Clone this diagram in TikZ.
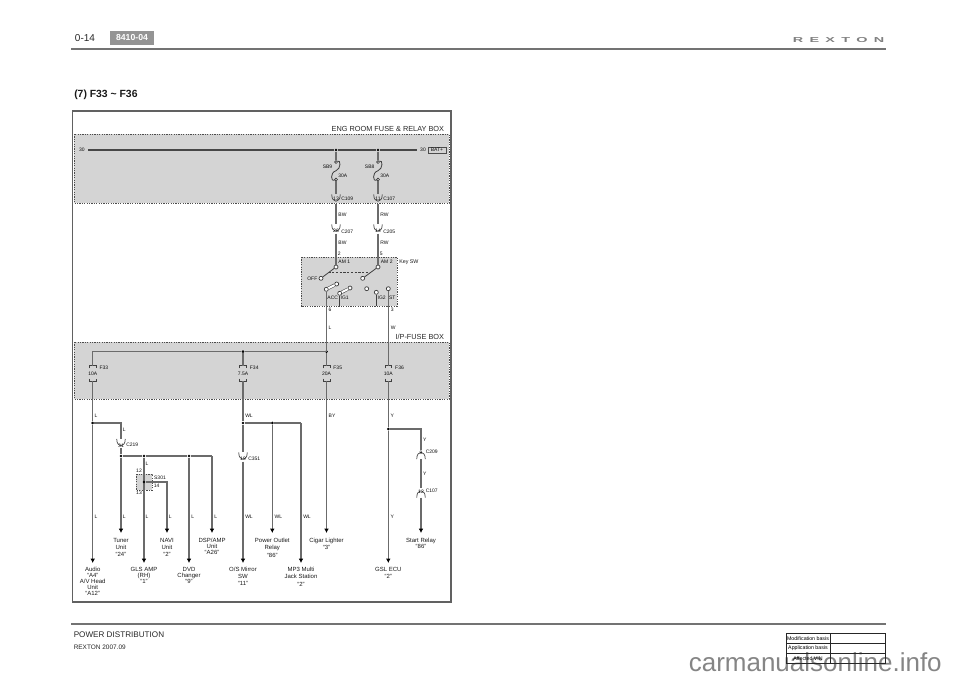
\documentclass[tikz,border=0pt]{standalone}
\usepackage{fontspec}
\setmainfont{Liberation Sans}
\newfontfamily\logofont[LetterSpace=44]{Liberation Sans}
\usetikzlibrary{arrows.meta,calc}
\definecolor{boxgray}{gray}{0.83}
\definecolor{wiregray}{gray}{0.42}
\tikzset{
  wire/.style={draw=wiregray,line width=0.85pt},
  busw/.style={draw=black!72,line width=1.1pt},
  arrowwire/.style={wire,-{Latex[length=3.2pt,width=3.4pt,black]}},
  thinw/.style={draw=black!75,line width=0.5pt},
  dotbox/.style={draw=black!70,fill=boxgray,line width=0.7pt,dash pattern=on 0.9pt off 0.9pt},
  lab/.style={font=\fontsize{3.75}{4.5}\selectfont,text=black!95,inner sep=0pt},
  midlab/.style={font=\fontsize{4}{4.5}\selectfont,text=black!90,inner sep=0pt},
  boxlab/.style={font=\fontsize{5.5}{6}\selectfont,text=black!85,inner sep=0pt},
  target/.style={font=\fontsize{4.5}{5}\selectfont,text=black!90,align=center,anchor=north,inner xsep=0pt,inner ysep=3.6pt},
  junction/.style={circle,fill=black,inner sep=0pt,minimum size=2.2pt},
  term/.style={circle,draw=black!80,fill=white,line width=0.5pt,inner sep=0pt,minimum size=3pt},
  fusenode/.style={font=\fontsize{3.75}{4.5}\selectfont,text=black!95,inner sep=0pt,minimum width=5pt,minimum height=11.25pt},
  connnode/.style={inner sep=0pt,minimum width=6pt,minimum height=6.4pt},
  blade/.style={draw=black!70,line width=0.45pt,double=white,double distance=1.5pt},
}
\newcommand{\conncup}[5]{% name x y number numshift
  \node[connnode] (#1) at (#2,#3) {};
  \draw[thinw] (#1.north west) .. controls (#1.south west) and (#1.south east) .. (#1.north east);
  \node[lab] (#1n) at ($(#1.center)+(0,#5pt)$) {#4};
}
\newcommand{\connarch}[5]{%
  \node[connnode] (#1) at (#2,#3) {};
  \draw[thinw] (#1.south west) .. controls (#1.north west) and (#1.north east) .. (#1.south east);
  \node[lab] (#1n) at ($(#1.center)+(0,#5pt)$) {#4};
}
\newcommand{\blowfuse}[4]{% name x label amp
  \node[fusenode] (#1) at (#2,373.5) {#4};
  \draw[thinw] ($(#1.north)+(-2.5pt,-2pt)$) -- ($(#1.north)+(-2.5pt,0)$) -- ($(#1.north)+(2.5pt,0)$) -- ($(#1.north)+(2.5pt,-2pt)$);
  \draw[thinw] ($(#1.south)+(-2.5pt,2pt)$) -- ($(#1.south)+(-2.5pt,0)$) -- ($(#1.south)+(2.5pt,0)$) -- ($(#1.south)+(2.5pt,2pt)$);
  \node[lab,anchor=west] (#1l) at ($(#1.north)+(5pt,-1.2pt)$) {#3};
}
\newcommand{\sfuse}[2]{% name x
  \node[term,minimum size=2.2pt] (#1a) at (#2,162) {};
  \node[term,minimum size=2.2pt] (#1b) at (#2,179.5) {};
  \draw[thinw,line width=0.6pt] (#1a) .. controls ($(#1a)+(3.5pt,2pt)$) and ($(#1a)+(4pt,-5pt)$) .. ($(#1a)!0.5!(#1b)$) .. controls ($(#1b)+(-5pt,5pt)$) and ($(#1b)+(-3.5pt,-2pt)$) .. (#1b);
}
\begin{document}
\begin{tikzpicture}[x=0.75pt,y=-0.75pt]
\useasboundingbox (0,0) rectangle (960,679);
% page furniture
\draw[draw=black!55,line width=1.5pt] (71,48.7) -- (885.5,48.7);
\draw[draw=black!55,line width=1.5pt] (71,623.5) -- (885.5,623.5);
\node[font=\fontsize{7.5}{9}\selectfont,text=black!85,inner sep=0pt] (pageno) at (85,37.7) {0-14};
\node[fill=black!42,minimum width=33pt,minimum height=10.5pt,inner sep=0pt,font=\bfseries\fontsize{6.5}{7}\selectfont,text=white] (badge) at (132,37.5) {8410-04};
\node[font=\logofont\bfseries\fontsize{5.4}{6}\selectfont,text=black!50,xscale=2,transform shape,inner sep=0pt] (logo) at (838.5,40) {REXTON};
\node[font=\bfseries\fontsize{7.8}{9}\selectfont,text=black!90,anchor=west,inner sep=0pt] (title) at (74,95) {(7) F33 \textasciitilde{} F36};
\node[font=\fontsize{6.1}{7}\selectfont,text=black!85,anchor=west,inner sep=0pt] (section) at (73.5,634.7) {POWER DISTRIBUTION};
\node[font=\fontsize{4.85}{6}\selectfont,text=black!85,anchor=west,inner sep=0pt] (model) at (73.5,647.7) {REXTON 2007.09};
% watermark
\node[font=\fontsize{19.5}{22}\selectfont,text=black!48,anchor=base east,inner sep=0pt] (wm) at (942,671) {carmanualsonline.info};
% table
\draw[draw=black!85,line width=0.5pt] (786,633.3) rectangle (885.5,663);
\draw[draw=black!85,line width=0.5pt] (786,643.3) -- (885.5,643.3) (786,653.3) -- (885.5,653.3) (830,633.3) -- (830,663);
\node[font=\fontsize{3.95}{5}\selectfont,inner sep=0pt] (t1) at (808,638.3) {Modification basis};
\node[font=\fontsize{3.95}{5}\selectfont,inner sep=0pt] (t2) at (808,648.3) {Application basis};
\node[font=\fontsize{3.95}{5}\selectfont,inner sep=0pt] (t3) at (808,658.3) {Affected VIN};
% frame and boxes
\draw[draw=black!62,line width=1pt] (72.3,111) rectangle (451,602);
\path[dotbox] (74,134) rectangle (449,203);
\path[dotbox] (74,342) rectangle (449,399);
\path[dotbox] (301,257) rectangle (397,306);
\path[dotbox] (136,474) rectangle (152,490);
\node[boxlab,anchor=east] (engl) at (444.3,129) {ENG ROOM FUSE \& RELAY BOX};
\node[boxlab,anchor=east] (ipl) at (444.3,336.7) {I/P-FUSE BOX};
\node[midlab,anchor=west] (keyl) at (399,262.3) {Key SW};
% battery bus
\node[lab,inner xsep=2.3pt] (n30l) at (82,150) {30};
\node[lab,inner xsep=2.3pt] (n30r) at (423,150) {30};
\node[lab,draw=black!70,line width=0.4pt,minimum width=13.5pt,minimum height=4.6pt] (bat) at (437,150) {BAT+};
\node[junction] (jsb9) at (336,150) {};
\node[junction] (jsb8) at (378,150) {};
\draw[busw] (n30l.east) -- (jsb9) -- (jsb8) -- (n30r.west);
% SB fuses
\sfuse{sb9}{336}
\sfuse{sb8}{378}
\node[lab] (sb9l) at (327.5,167) {SB9};
\node[lab] (sb8l) at (369.7,167) {SB8};
\node[lab] (sb9v) at (342.7,175.7) {30A};
\node[lab] (sb8v) at (384.7,175.7) {30A};
\draw[wire] (jsb9) -- (sb9a);
\draw[wire] (jsb8) -- (sb8a);
% upper connectors
\conncup{ca}{336}{199}{13}{0}
\conncup{cb}{378}{199}{11}{0}
\node[lab,anchor=west] (cal) at (341,198.3) {C109};
\node[lab,anchor=west] (cbl) at (383,198.3) {C107};
\draw[wire] (sb9b) -- (ca.north);
\draw[wire] (sb8b) -- (cb.north);
\conncup{cc}{336}{229}{26}{-1.4}
\conncup{cd}{378}{229}{14}{-1.4}
\node[lab,anchor=west] (ccl) at (341,231.3) {C207};
\node[lab,anchor=west] (cdl) at (383,231.3) {C205};
\draw[wire] (ca.south) -- (cc.north);
\draw[wire] (cb.south) -- (cd.north);
\node[lab] (w1) at (342.5,214.3) {BW};
\node[lab] (w2) at (384.5,214.3) {RW};
\node[lab] (w3) at (342.5,242.7) {BW};
\node[lab] (w4) at (384.5,242.7) {RW};
\node[lab] (p2) at (339.3,253.7) {2};
\node[lab] (p5) at (381.3,253.7) {5};
% key switch
\node[term] (am1) at (336,267) {};
\node[term] (am2) at (378,267) {};
\node[term] (off) at (321,278.3) {};
\node[term] (off2) at (362.7,278.3) {};
\node[term] (acc) at (326.3,289.3) {};
\node[term] (acc2) at (336.7,284) {};
\node[term] (ig1) at (339.7,293.3) {};
\node[term] (ig1b) at (350,288) {};
\node[term] (free) at (366.7,288.7) {};
\node[term] (ig2) at (376.3,292.3) {};
\node[term] (st) at (388.3,288.7) {};
\draw[wire] (cc.south) -- (am1);
\draw[wire] (cd.south) -- (am2);
\draw[thinw,line width=0.6pt] (am1) -- (off);
\draw[thinw,line width=0.6pt] (am2) -- (off2);
\draw[thinw,dash pattern=on 1.6pt off 1.2pt] ($(am1)!0.5!(off)$) -- ($(am2)!0.5!(off2)$);
\draw[blade] (acc) -- (acc2);
\draw[blade] (ig1) -- (ig1b);
\coordinate (ig1end) at (339.7,306);
\coordinate (ig2end) at (376.3,306);
\draw[thinw,line width=0.6pt] (ig1) -- (ig1end);
\draw[thinw,line width=0.6pt] (ig2) -- (ig2end);
\node[lab] (am1l) at (344.3,261.3) {AM 1};
\node[lab] (am2l) at (386.7,261.3) {AM 2};
\node[lab] (offl) at (312.3,279) {OFF};
\node[lab] (accl) at (332.7,298) {ACC};
\node[lab] (ig1l) at (344.7,298) {IG1};
\node[lab] (ig2l) at (381.7,298) {IG2};
\node[lab] (stl) at (392.3,298) {ST};
\node[lab] (p6) at (330,310) {6};
\node[lab] (p3) at (392.3,310) {3};
\node[lab] (wl) at (330,327.7) {L};
\node[lab] (ww) at (393.3,327.7) {W};
% I/P fuse box
\blowfuse{f33}{92.7}{F33}{10A}
\blowfuse{f34}{243}{F34}{7.5A}
\blowfuse{f35}{326.5}{F35}{20A}
\blowfuse{f36}{388.3}{F36}{10A}
\node[junction] (j34) at (243,351.7) {};
\node[junction] (j35) at (326.5,351.7) {};
\draw[wire] (acc) -- (acc |- j35) -- (j35);
\draw[wire] (f33.north) |- (j34) -- (j35);
\draw[wire] (j34) -- (f34.north);
\draw[wire] (j35) -- (f35.north);
\draw[wire] (st) -- (f36.north);
% targets
\node[target,inner ysep=2.8pt,font=\fontsize{4.5}{4.5}\selectfont] (audio) at (92.7,563) {Audio\\``A4''\\A/V Head\\Unit\\``A12''};
\node[target,font=\fontsize{4.5}{5.5}\selectfont] (tuner) at (121,533) {Tuner\\Unit\\``24''};
\node[target,inner ysep=2.8pt,font=\fontsize{4.5}{4.5}\selectfont] (gls) at (144,563) {GLS AMP\\(RH)\\``1''};
\node[target,font=\fontsize{4.5}{5.5}\selectfont] (navi) at (167,533) {NAVI\\Unit\\``2''};
\node[target,inner ysep=2.8pt,font=\fontsize{4.5}{4.5}\selectfont] (dvd) at (189,563) {DVD\\Changer\\``9''};
\node[target,font=\fontsize{4.5}{4.5}\selectfont] (dsp) at (212,533) {DSP/AMP\\Unit\\``A26''};
\node[target,inner ysep=2.8pt,font=\fontsize{4.5}{5.3}\selectfont] (osm) at (243,563) {O/S Mirror\\SW\\``11''};
\node[target,font=\fontsize{4.5}{5.5}\selectfont] (pwr) at (272.3,533) {Power Outlet\\Relay\\``86''};
\node[target,inner ysep=2.8pt,font=\fontsize{4.5}{5.5}\selectfont] (mp3) at (301,563) {MP3 Multi\\Jack Station\\``2''};
\node[target,font=\fontsize{4.5}{5.5}\selectfont] (cig) at (326.5,533) {Cigar Lighter\\``3''};
\node[target,inner ysep=2.8pt,font=\fontsize{4.5}{5.5}\selectfont] (gsl) at (388.3,563) {GSL ECU\\``2''};
\node[target,font=\fontsize{4.5}{4.5}\selectfont] (sta) at (421,533) {Start Relay\\``86''};
% F33 branch
\node[junction] (j1) at (92.7,423) {};
\draw[wire] (f33.south) -- (j1);
\draw[arrowwire] (j1) -- (audio.north);
\conncup{c219}{121}{443.5}{31}{-1.4}
\draw[wire] (j1) -| (c219.north);
\node[lab,anchor=west] (c219l) at (126,444.7) {C219};
\node[junction] (j2) at (121,456) {};
\node[junction] (j3) at (144,456) {};
\node[junction] (j4) at (189,456) {};
\coordinate (c5) at (212,456);
\draw[wire] (c219.south) -- (j2);
\draw[arrowwire] (j2) -- (tuner.north);
\draw[wire] (j2) -- (j3) -- (j4) -- (c5);
\draw[arrowwire] (c5) -- (dsp.north);
\draw[arrowwire] (j3) -- (gls.north);
\draw[arrowwire] (j4) -- (dvd.north);
\node[junction] (j5) at (144,482) {};
\draw[arrowwire] (j5) -| (navi.north);
\node[lab] (s301) at (160,478) {S301};
\node[lab] (p12) at (139,471) {12};
\node[lab] (p13) at (139,493) {13};
\node[lab] (p14) at (156.7,485.7) {14};
% F34 branch
\node[junction] (j6) at (243,423) {};
\node[junction] (j7) at (272.3,423) {};
\coordinate (c8) at (301,423);
\conncup{c351}{243}{457}{19}{-1.4}
\node[lab,anchor=west] (c351l) at (248,459) {C351};
\draw[wire] (f34.south) -- (j6);
\draw[wire] (j6) -- (c351.north);
\draw[arrowwire] (c351.south) -- (osm.north);
\draw[wire] (j6) -- (j7) -- (c8);
\draw[arrowwire] (j7) -- (pwr.north);
\draw[arrowwire] (c8) -- (mp3.north);
% F35
\draw[arrowwire] (f35.south) -- (cig.north);
% F36 branch
\node[junction] (j9) at (388.3,429) {};
\draw[wire] (f36.south) -- (j9);
\draw[arrowwire] (j9) -- (gsl.north);
\connarch{c209}{421}{454.5}{9}{1.2}
\connarch{c107b}{421}{493}{12}{1.2}
\node[lab,anchor=west] (c209l) at (425.5,452) {C209};
\node[lab,anchor=west] (c107l) at (425.5,490.3) {C107};
\draw[wire] (j9) -| (c209.north);
\draw[wire] (c209.south) -- (c107b.north);
\draw[arrowwire] (c107b.south) -- (sta.north);
% wire labels
\node[lab] (a1) at (96,415.3) {L};
\node[lab] (a2) at (124.3,429.7) {L};
\node[lab] (a3) at (147,463.7) {L};
\node[lab] (a4) at (96,516.7) {L};
\node[lab] (a5) at (124.3,516.7) {L};
\node[lab] (a6) at (147,516.7) {L};
\node[lab] (a7) at (170.3,516.7) {L};
\node[lab] (a8) at (192.7,516.7) {L};
\node[lab] (a9) at (215.7,516.7) {L};
\node[lab] (b1) at (249,415.3) {WL};
\node[lab] (b2) at (249,516.7) {WL};
\node[lab] (b3) at (278.3,516.7) {WL};
\node[lab] (b4) at (307,516.7) {WL};
\node[lab] (b5) at (332,415.3) {BY};
\node[lab] (y1) at (392.3,415.3) {Y};
\node[lab] (y2) at (392.3,516.7) {Y};
\node[lab] (y3) at (424.7,439.3) {Y};
\node[lab] (y4) at (424.7,473.7) {Y};
\end{tikzpicture}
\end{document}
